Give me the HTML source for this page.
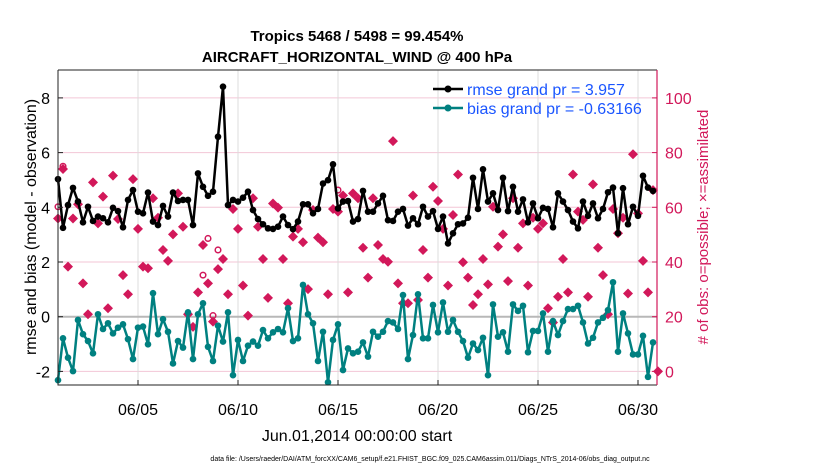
<!DOCTYPE html>
<html><head><meta charset="utf-8"><style>
body{margin:0;background:#fff;}
svg{display:block;font-family:"Liberation Sans",Arial,sans-serif;}
</style></head><body>
<svg id="chart" width="830" height="470" viewBox="0 0 830 470">
<text x="357" y="41" font-size="15" font-weight="bold" text-anchor="middle">Tropics 5468 / 5498 = 99.454%</text>
<text x="357" y="62" font-size="15" font-weight="bold" text-anchor="middle">AIRCRAFT_HORIZONTAL_WIND @ 400 hPa</text>
<g id="grid"></g>
<g id="marks"></g>
<g id="axes"></g>
<text transform="translate(36,227) rotate(-90)" font-size="16" text-anchor="middle">rmse and bias (model - observation)</text>
<text transform="translate(708,227) rotate(-90)" font-size="15" fill="#d2185a" text-anchor="middle"># of obs: o=possible; ×=assimilated</text>
<text x="357" y="441" font-size="16" text-anchor="middle">Jun.01,2014 00:00:00 start</text>
<text x="430" y="461" font-size="7" text-anchor="middle">data file: /Users/raeder/DAI/ATM_forcXX/CAM6_setup/f.e21.FHIST_BGC.f09_025.CAM6assim.011/Diags_NTrS_2014-06/obs_diag_output.nc</text>
<g>
<line x1="433" y1="89" x2="463" y2="89" stroke="#000" stroke-width="2.5"/>
<circle cx="448" cy="89" r="3.5" fill="#000"/>
<text x="467" y="95" font-size="16" fill="#1a55ff">rmse grand pr = 3.957</text>
<line x1="433" y1="108" x2="463" y2="108" stroke="#008080" stroke-width="2.5"/>
<circle cx="448" cy="108" r="3.5" fill="#008080"/>
<text x="467" y="114" font-size="16" fill="#1a55ff">bias grand pr = -0.63166</text>
</g>
</svg>
<script>
const rmse=[5.03,3.25,4.08,4.71,4.21,3.45,4.02,3.50,3.66,3.60,3.45,3.98,3.86,3.27,4.27,4.63,3.84,3.78,4.54,3.48,3.35,4.05,3.66,4.54,4.23,4.27,4.27,3.35,5.24,4.75,4.42,4.57,6.58,8.41,4.08,4.27,4.21,4.35,4.57,3.90,3.57,3.38,3.23,3.21,3.29,3.66,3.35,3.20,3.48,4.11,4.11,3.78,3.94,4.87,4.99,5.57,3.96,4.21,4.23,3.48,
3.57,4.60,3.84,3.84,4.14,4.42,3.53,3.50,3.84,3.94,3.33,3.60,3.38,4.02,3.66,3.86,3.21,3.66,2.68,3.05,3.38,3.41,3.62,5.08,3.94,5.39,4.21,4.51,3.90,5.08,3.86,4.75,3.84,4.29,3.45,4.14,3.60,3.98,3.94,3.27,4.51,4.21,3.90,3.48,3.23,4.21,3.69,4.14,3.60,3.94,4.55,4.72,3.05,4.70,3.38,4.02,3.69,5.15,4.72,4.60];
const bias=[-2.32,-0.79,-1.50,-1.99,-0.12,-0.64,-0.89,-1.34,0.09,-0.45,-0.24,-0.61,-0.40,-0.28,-0.82,-1.55,-0.40,-0.36,-1.01,0.86,-0.64,-0.09,-0.55,-1.71,-0.89,-1.13,0.16,-1.55,0.09,0.49,-1.10,-1.62,-0.33,-0.91,0.16,-2.14,-0.85,-1.62,-1.06,-0.91,-1.06,-0.49,-0.79,-0.57,-0.45,-0.57,0.31,-0.89,-0.79,1.16,0.09,-0.24,-1.62,-0.55,-2.40,-0.85,-0.28,-1.95,-1.16,-1.34,
-1.28,-0.94,-1.46,-0.55,-0.73,-0.55,-0.16,-0.21,-0.45,0.79,-1.55,-0.67,0.82,-0.79,-0.79,0.43,-0.57,0.52,-0.55,-0.12,-0.55,-0.89,-1.50,-0.98,-1.22,-0.77,-2.14,0.45,-0.73,-0.57,-1.28,0.45,0.21,0.40,-1.30,-0.52,-0.52,0.12,-1.28,-0.16,-0.67,-0.16,0.28,0.28,0.40,-0.21,-0.98,-0.77,-0.21,-0.04,0.24,1.26,-1.28,0.12,-0.61,-1.38,-1.38,-0.70,-2.20,-0.94];
const nUsed=[55.9,74.0,38.3,55.9,61.1,32.2,20.9,69.1,54.1,63.9,23.1,71.6,55.7,35.2,28.2,70.3,52.1,38.3,37.7,63.3,56.2,44.4,40.4,50.1,65.1,52.9,20.9,16.3,28.9,46.2,32.2,18.2,37.4,41.1,28.2,59.4,52.1,31.4,20.4,63.3,52.9,41.1,26.9,61.4,59.9,41.1,24.9,49.3,52.1,47.2,30.1,59.0,48.9,47.2,28.2,59.4,58.4,64.3,28.9,65.1,
63.3,45.2,34.3,63.3,46.2,41.1,40.1,84.2,32.2,24.9,24.9,64.3,26.1,44.4,34.3,67.5,62.3,52.1,31.4,57.2,72.0,39.9,34.3,24.3,28.2,41.1,31.8,60.2,45.6,50.1,33.0,63.3,45.2,54.1,31.4,56.2,52.1,54.1,23.1,17.9,27.3,41.1,28.9,72.0,58.4,55.4,27.3,68.4,45.2,35.2,20.9,59.4,50.5,56.2,28.5,79.4,57.8,40.4,28.9,66.3,0];
const possIdx=[0,1,29,30,31,32,56];
const possVal=[60.2,75.0,35.2,48.6,20.4,44.4,66.3];
const yTicks=[-2,0,2,4,6,8];
const rTicks=[0,20,40,60,80,100];
const xTickDays=[5,10,15,20,25,30];
const xTickLabels=["06/05","06/10","06/15","06/20","06/25","06/30"];

const L=58,R=657,T=70,B=385;
const X=d=>58+(d-1)*20;
const Y=v=>316.7-v*27.35;
const YR=c=>Y((c-20)/10);
const NS="http://www.w3.org/2000/svg";
function mk(tag,attrs,parent){const e=document.createElementNS(NS,tag);for(const k in attrs)e.setAttribute(k,attrs[k]);parent.appendChild(e);return e;}
const grid=document.getElementById('grid'),marks=document.getElementById('marks'),axes=document.getElementById('axes');
yTicks.forEach(v=>{const l=mk('line',{x1:L,x2:R,y1:Y(v),y2:Y(v),stroke:'#f3c6d6','stroke-width':1},grid);

});
xTickDays.forEach(d=>{const l=mk('line',{x1:X(d),x2:X(d),y1:T,y2:B,stroke:'#dcdcdc','stroke-width':1},grid);

});
const z=mk('line',{x1:L,x2:R,y1:Y(0),y2:Y(0),stroke:'#b8b8b8','stroke-width':2},grid);


const dayOf=i=>1+i*0.25;
nUsed.forEach((c,i)=>{const x=X(dayOf(i)),y=YR(c);
const p=mk('path',{d:`M${x} ${y-5}L${x+5} ${y}L${x} ${y+5}L${x-5} ${y}Z`,fill:'#d2185a'},marks);

});
possIdx.forEach((idx,k)=>{const c=mk('circle',{cx:X(dayOf(idx)),cy:YR(possVal[k]),r:2.8,fill:'none',stroke:'#d2185a','stroke-width':1.5},marks);

});
function series(arr,color,name){
const pts=arr.map((v,i)=>X(dayOf(i))+','+Y(v)).join(' ');
const pl=mk('polyline',{points:pts,fill:'none',stroke:color,'stroke-width':2.5,'stroke-linejoin':'round'},marks);


arr.forEach((v,i)=>{const c=mk('circle',{cx:X(dayOf(i)),cy:Y(v),r:3.3,fill:color},marks);

});}
series(rmse,'#000','rmse');
series(bias,'#008080','bias');
const fr=mk('path',{d:`M${L} ${T}H${R}M${L} ${T}V${B}H${R}`,fill:'none',stroke:'#222','stroke-width':1},axes);


const ra=mk('line',{x1:R,x2:R,y1:T,y2:B,stroke:'#d2185a','stroke-width':1.2},axes);


yTicks.forEach(v=>{mk('line',{x1:L,x2:L+5,y1:Y(v),y2:Y(v),stroke:'#222'},axes);
const t=mk('text',{x:L-8,y:Y(v)+6,'font-size':16,'text-anchor':'end'},axes);t.textContent=v;

});
rTicks.forEach(c=>{mk('line',{x1:R-5,x2:R,y1:YR(c),y2:YR(c),stroke:'#d2185a'},axes);
const t=mk('text',{x:R+8,y:YR(c)+6,'font-size':16,fill:'#d2185a'},axes);t.textContent=c;

});
xTickDays.forEach((d,k)=>{mk('line',{x1:X(d),x2:X(d),y1:B,y2:B-5,stroke:'#222'},axes);
const t=mk('text',{x:X(d),y:B+30,'font-size':16,'text-anchor':'middle'},axes);t.textContent=xTickLabels[k];

});
</script>
</body></html>
